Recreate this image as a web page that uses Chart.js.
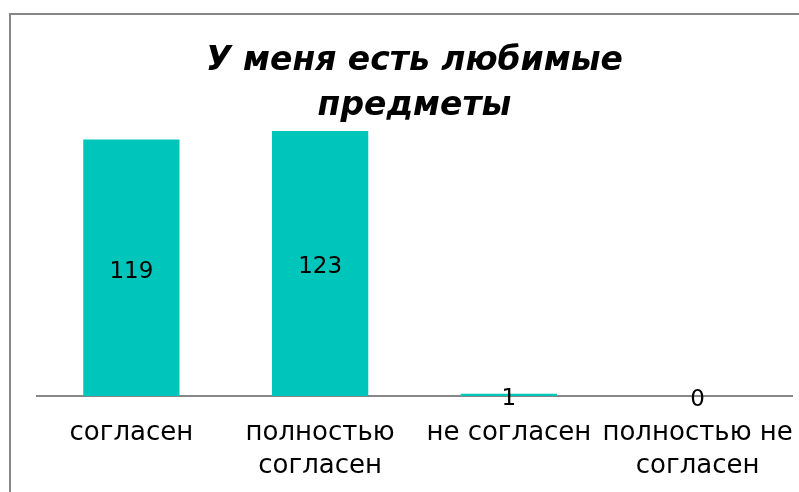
<!DOCTYPE html>
<html>
<head>
<meta charset="utf-8">
<script src="https://cdn.jsdelivr.net/npm/chart.js@4/dist/chart.umd.min.js"></script>
<style>
  html, body { margin: 0; padding: 0; background: #fff; }
  #wrap { position: relative; width: 799px; height: 492px; }
</style>
</head>
<body>
<div id="wrap"><canvas id="c" width="799" height="492"></canvas></div>
<script>
// Survey answers: "У меня есть любимые предметы"
const categories = [
  'согласен',
  ['полностью', 'согласен'],
  'не согласен',
  ['полностью не', 'согласен']
];
const answerCounts = [119, 123, 1, 0];
const titleLines = ['У меня есть любимые', 'предметы'];

const BAR_COLOR = '#00C5BB';
const LINE_GRAY = '#878787';
const LABEL_FONT = '"DejaVu Sans", sans-serif';

// Outer frame lines on the left and top edges
const framePlugin = {
  id: 'frame',
  beforeDraw(chart) {
    const ctx = chart.ctx;
    ctx.save();
    ctx.strokeStyle = LINE_GRAY;
    ctx.lineWidth = 2;
    ctx.beginPath();
    ctx.moveTo(10, 492);
    ctx.lineTo(10, 14);
    ctx.lineTo(799, 14);
    ctx.stroke();
    ctx.restore();
  }
};

// Value labels centred in each bar
const valueLabels = {
  id: 'valueLabels',
  afterDatasetsDraw(chart) {
    const ctx = chart.ctx;
    const meta = chart.getDatasetMeta(0);
    ctx.save();
    ctx.font = '23px ' + LABEL_FONT;
    ctx.fillStyle = '#000';
    ctx.textAlign = 'center';
    ctx.textBaseline = 'middle';
    meta.data.forEach((bar, i) => {
      const y = (bar.y + bar.base) / 2 + 4;
      ctx.fillText(String(chart.data.datasets[0].data[i]), bar.x, y);
    });
    ctx.restore();
  }
};

new Chart(document.getElementById('c'), {
  type: 'bar',
  data: {
    labels: categories,
    datasets: [{
      data: answerCounts,
      backgroundColor: BAR_COLOR,
      borderWidth: 0,
      categoryPercentage: 1,
      barPercentage: 0.51,
      minBarLength: 0
    }]
  },
  options: {
    responsive: false,
    animation: false,
    layout: { padding: { left: 37, right: 7, top: 13, bottom: 0 } },
    plugins: {
      legend: { display: false },
      tooltip: { enabled: false },
      title: {
        display: true,
        text: titleLines,
        color: '#000',
        font: { family: '"DejaVu Sans", sans-serif', size: 33, weight: 'bold', style: 'italic', lineHeight: 1.36 },
        padding: { top: 26, bottom: 0 }
      }
    },
    scales: {
      y: {
        display: false,
        min: 0,
        max: 124
      },
      x: {
        grid: { display: false, drawTicks: false },
        border: { display: true, color: LINE_GRAY, width: 2 },
        afterFit(scale) {
          scale.height = 96;
          scale.paddingLeft = 0;
          scale.paddingRight = 0;
        },
        ticks: {
          color: '#000',
          padding: 20,
          maxRotation: 0,
          autoSkip: false,
          font: { family: LABEL_FONT, size: 26, lineHeight: 1.3 }
        }
      }
    }
  },
  plugins: [framePlugin, valueLabels]
});
</script>
</body>
</html>
